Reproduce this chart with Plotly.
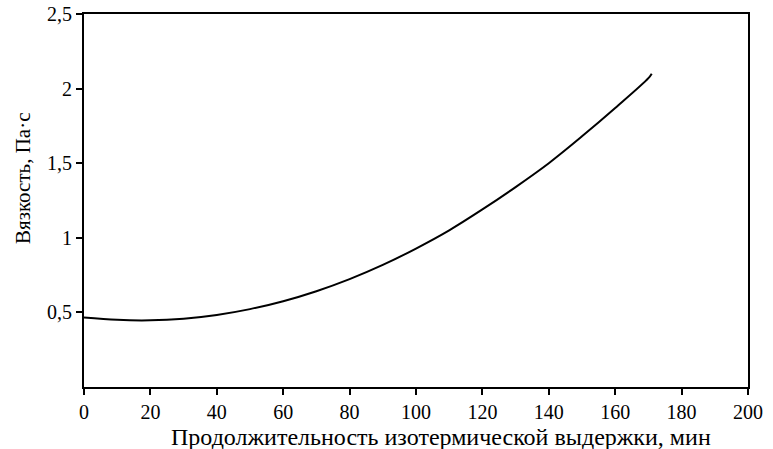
import plotly.graph_objects as go

# Data
time_min = [0, 10, 20, 30, 40, 50, 60, 70, 80, 90, 100, 110, 120, 130, 140, 150, 160, 170, 171]
viscosity = [0.465, 0.450, 0.447, 0.458, 0.483, 0.522, 0.575, 0.642, 0.723, 0.818, 0.928,
             1.050, 1.190, 1.340, 1.500, 1.680, 1.870, 2.070, 2.100]

x_ticks = [0, 20, 40, 60, 80, 100, 120, 140, 160, 180, 200]
y_ticks = [0.5, 1, 1.5, 2, 2.5]
y_tick_labels = ["0,5", "1", "1,5", "2", "2,5"]
x_title = "Продолжительность изотермической выдержки, мин"
y_title = "Вязкость, Па·с"

FONT = "Liberation Serif"
W, H = 773, 449
L, R, T, B = 84, 25, 14, 62
PW, PH = W - L - R, H - T - B

fig = go.Figure()
fig.add_trace(go.Scatter(
    x=time_min, y=viscosity, mode="lines",
    line=dict(color="black", width=2, shape="spline"),
    showlegend=False, hoverinfo="skip",
))

axis_common = dict(
    ticks="outside", ticklen=6, tickwidth=2, tickcolor="black",
    showline=True, linecolor="black", linewidth=2, mirror=True,
    showgrid=False, zeroline=False, ticklabeloverflow="allow",
    automargin=False, tickfont=dict(family=FONT, size=20, color="black"),
)

fig.update_layout(
    width=W, height=H,
    margin=dict(l=L, r=R, t=T, b=B),
    paper_bgcolor="white", plot_bgcolor="white",
    font=dict(family=FONT, size=20, color="black"),
    separators=", ",
    xaxis=dict(range=[0, 200], tickvals=x_ticks, **axis_common),
    yaxis=dict(range=[0, 2.5], tickvals=y_ticks, ticktext=y_tick_labels, **axis_common),
    annotations=[
        dict(text=x_title, xref="paper", yref="paper",
             x=(441 - L) / PW, y=(H - B - 437) / PH,
             xanchor="center", yanchor="middle", showarrow=False,
             font=dict(family=FONT, size=24, color="black")),
        dict(text=y_title, xref="paper", yref="paper", textangle=-90,
             x=(23 - L) / PW, y=(H - B - 178) / PH,
             xanchor="center", yanchor="middle", showarrow=False,
             font=dict(family=FONT, size=21, color="black")),
    ],
)

fig.write_html("out.html", config={"displayModeBar": False},
               post_script="document.body.style.margin='0';")
